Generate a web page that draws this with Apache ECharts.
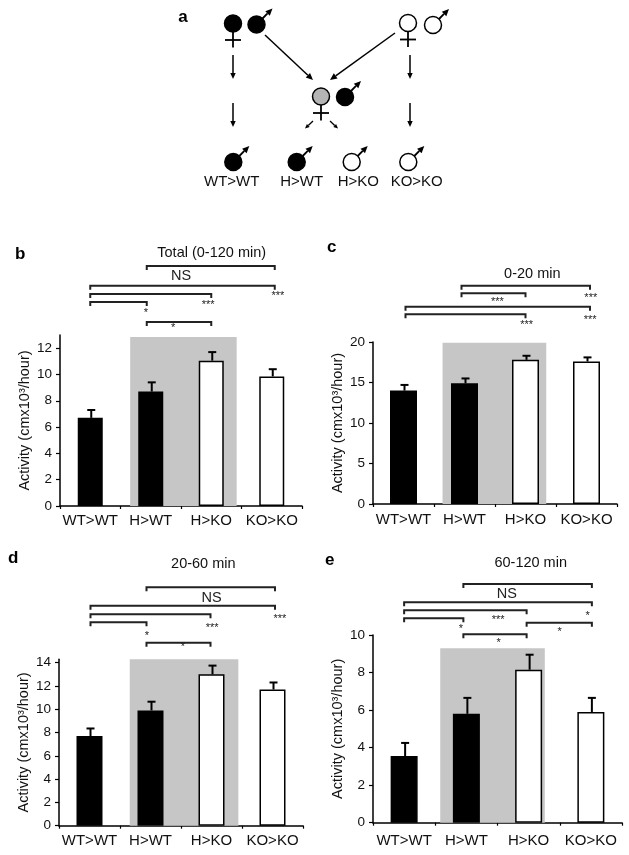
<!DOCTYPE html>
<html><head><meta charset="utf-8">
<script src="https://cdn.jsdelivr.net/npm/echarts@6/dist/echarts.min.js"></script>
<style>html,body{margin:0;padding:0;background:#fff}#c{width:629px;height:855px}</style>
</head><body><div id="c"></div>
<script>
// ---------------- data ----------------
const categories = ['WT>WT', 'H>WT', 'H>KO', 'KO>KO'];
const panelTitles = ['Total (0-120 min)', '0-20 min', '20-60 min', '60-120 min'];
const panelLetters = ['b', 'c', 'd', 'e'];
const yTitle = 'Activity (cmx10\u00B3/hour)';

const totalMean = [6.7, 8.7, 11.05, 9.85];
const totalErr = [0.6, 0.7, 0.65, 0.55];
const min0to20Mean = [14.0, 14.9, 17.8, 17.6];
const min0to20Err = [0.7, 0.6, 0.5, 0.5];
const min20to60Mean = [7.7, 9.9, 13.0, 11.7];
const min20to60Err = [0.65, 0.75, 0.75, 0.6];
const min60to120Mean = [3.55, 5.8, 8.15, 5.9];
const min60to120Err = [0.7, 0.85, 0.8, 0.75];

const ticksB = [0, 2, 4, 6, 8, 10, 12];
const ticksC = [0, 5, 10, 15, 20];
const ticksD = [0, 2, 4, 6, 8, 10, 12, 14];
const ticksE = [0, 2, 4, 6, 8, 10];
const yMaxes = [13, 20, 14.3, 10];
const shadeTops = [12.85, 19.9, 14.3, 9.3];   // grey background (heterozygous dams)

// comparisons: [from, to, significance]
const bracketsB = [['H>WT','KO>KO','NS'], ['WT>WT','KO>KO','***'], ['WT>WT','H>KO','***'], ['WT>WT','H>WT','*'], ['H>WT','H>KO','*']];
const bracketsC = [['H>WT','KO>KO','***'], ['H>WT','H>KO','***'], ['WT>WT','KO>KO','***'], ['WT>WT','H>KO','***']];
const bracketsD = [['H>WT','KO>KO','NS'], ['WT>WT','KO>KO','***'], ['WT>WT','H>KO','***'], ['WT>WT','H>WT','*'], ['H>WT','H>KO','*']];
const bracketsE = [['H>WT','KO>KO','NS'], ['WT>WT','KO>KO','*'], ['WT>WT','H>KO','***'], ['WT>WT','H>WT','*'], ['H>KO','KO>KO','*'], ['H>WT','H>KO','*']];

// ---------------- layout / style ----------------
const FONT = "'Liberation Sans', Arial, Helvetica, sans-serif";
const INK = '#111';
const barFill = ['#000', '#000', '#fff', '#fff'];

const layouts = [
  { grid: {left: 60, top: 335, width: 242, height: 171}, barWidth: 25, xMargin: 7,
    letter: [21, 256], title: [211.7, 252.7], shade: [-0.34, 0.42], endOff: [0, -4, 0, 3],
    br: [{y: 266, lx: 1.5, ly: 276}, {y: 285.7, lx: 3.1, ly: 296}, {y: 294, lx: 1.95, ly: 304.5},
         {y: 302, lx: 0.92, ly: 312.5}, {y: 322, lx: 1.37, ly: 328}] },
  { grid: {left: 373, top: 342, width: 244, height: 162}, barWidth: 27, xMargin: 8,
    letter: [333, 249.3], title: [532.3, 274.3], shade: [-0.36, 0.34], endOff: [2, -3, 0, 3.5],
    br: [{y: 285.7, lx: 3.07, ly: 298}, {y: 293.3, lx: 1.54, ly: 302}, {y: 306.7, lx: 3.06, ly: 320},
         {y: 314.3, lx: 2.02, ly: 324.5}] },
  { grid: {left: 59, top: 659.2, width: 244, height: 166.5}, barWidth: 26, xMargin: 8,
    letter: [14, 560], title: [203.3, 564.3], shade: [-0.34, 0.44], endOff: [1, -4, -1, 2.5],
    br: [{y: 587.3, lx: 2.0, ly: 598.3}, {y: 605.7, lx: 3.12, ly: 618.5}, {y: 614.3, lx: 2.01, ly: 628},
         {y: 622.3, lx: 0.94, ly: 635.5}, {y: 642.7, lx: 1.53, ly: 646.5}] },
  { grid: {left: 373, top: 635, width: 249, height: 187.7}, barWidth: 27, xMargin: 11,
    letter: [331, 561.7], title: [530.7, 563.3], shade: [-0.42, 0.26], endOff: [0, -3, -2, 1],
    br: [{y: 584, lx: 1.65, ly: 594.3}, {y: 602.3, lx: 2.95, ly: 615.5}, {y: 610.3, lx: 1.51, ly: 619.5},
         {y: 618.3, lx: 0.91, ly: 629}, {y: 622.7, lx: 2.5, ly: 632}, {y: 634.3, lx: 1.52, ly: 643}] }
];

const means = [totalMean, min0to20Mean, min20to60Mean, min60to120Mean];
const errs = [totalErr, min0to20Err, min20to60Err, min60to120Err];
const tickSets = [ticksB, ticksC, ticksD, ticksE];
const bracketSets = [bracketsB, bracketsC, bracketsD, bracketsE];

const chart = echarts.init(document.getElementById('c'), null, {renderer: 'canvas'});

const grids = [], xAxes = [], yAxes = [], series = [], graphics = [];

layouts.forEach((L, p) => {
  grids.push(Object.assign({outerBoundsMode: 'none', containLabel: false}, L.grid));
  xAxes.push({
    gridIndex: p, type: 'category', data: categories,
    axisLine: {show: true, lineStyle: {color: '#000', width: 1.5}},
    axisTick: {show: true, length: 3, lineStyle: {color: '#000', width: 1.2}},
    axisLabel: {interval: 0, fontSize: 15, color: INK, margin: L.xMargin, fontFamily: FONT},
    splitLine: {show: false}
  });
  yAxes.push({
    gridIndex: p, type: 'value', min: 0, max: yMaxes[p],
    axisLine: {show: true, lineStyle: {color: '#000', width: 1.5}},
    axisTick: {show: true, inside: false, length: 4, lineStyle: {color: '#000', width: 1.2}, customValues: tickSets[p]},
    axisLabel: {customValues: tickSets[p], fontSize: 13.5, color: INK, margin: 8, fontFamily: FONT},
    splitLine: {show: false},
    name: yTitle, nameLocation: 'middle', nameGap: 28, nameRotate: 90,
    nameTextStyle: {fontSize: 14.5, color: INK, fontFamily: FONT}
  });

  // grey background region
  series.push({
    type: 'custom', xAxisIndex: p, yAxisIndex: p, z: 1, silent: true, clip: false,
    encode: {x: [0, 1], y: 2},
    data: [[1, 2, shadeTops[p]]],
    renderItem: (params, api) => {
      const c0 = api.coord([0, 0]);
      const band = api.size([1, 0])[0];
      const yTop = api.coord([0, api.value(2)])[1];
      const x1 = c0[0] + (api.value(0) + L.shade[0]) * band;
      const x2 = c0[0] + (api.value(1) + L.shade[1]) * band;
      return {type: 'rect', shape: {x: x1, y: yTop, width: x2 - x1, height: c0[1] - yTop},
              style: {fill: '#c6c6c6'}};
    }
  });

  // bars
  series.push({
    type: 'bar', xAxisIndex: p, yAxisIndex: p, z: 3, barWidth: L.barWidth,
    data: means[p].map((v, i) => ({value: v, itemStyle: {color: barFill[i], borderColor: '#000', borderWidth: 1.5}}))
  });

  // error bars (upper SEM)
  series.push({
    type: 'custom', xAxisIndex: p, yAxisIndex: p, z: 4, silent: true, clip: false,
    encode: {x: 0, y: 1},
    data: means[p].map((m, i) => [i, m, errs[p][i]]),
    renderItem: (params, api) => {
      const base = api.coord([api.value(0), api.value(1)]);
      const top = api.coord([api.value(0), api.value(1) + api.value(2)]);
      const x = base[0] + 1;
      return {type: 'group', children: [
        {type: 'line', shape: {x1: x, y1: base[1], x2: x, y2: top[1]}, style: {stroke: '#000', lineWidth: 2}},
        {type: 'line', shape: {x1: x - 4, y1: top[1], x2: x + 4, y2: top[1]}, style: {stroke: '#000', lineWidth: 2}}
      ]};
    }
  });

  // significance brackets
  const brs = bracketSets[p];
  series.push({
    type: 'custom', xAxisIndex: p, yAxisIndex: p, z: 5, silent: true, clip: false,
    encode: {x: [0, 1]},
    data: brs.map(b => [categories.indexOf(b[0]), categories.indexOf(b[1]), 0]),
    renderItem: (params, api) => {
      const i = params.dataIndex;
      const B = L.br[i];
      const a = api.value(0), b = api.value(1);
      const c0 = api.coord([0, 0])[0];
      const band = api.size([1, 0])[0];
      const x1 = c0 + a * band + L.endOff[a];
      const x2 = c0 + b * band + L.endOff[b];
      const lbl = brs[i][2];
      const isNS = lbl === 'NS';
      return {type: 'group', children: [
        {type: 'polyline', shape: {points: [[x1, B.y + 4], [x1, B.y], [x2, B.y], [x2, B.y + 4]]},
         style: {stroke: '#222', lineWidth: 2, fill: null}},
        {type: 'text', style: {text: lbl, x: c0 + B.lx * band, y: B.ly, align: 'center', verticalAlign: 'middle',
          font: (isNS ? '14.5px ' : '11px ') + FONT, fill: '#222'}}
      ]};
    }
  });

  graphics.push({type: 'text', left: L.letter[0] - 6, top: L.letter[1] - 10,
    style: {text: panelLetters[p], font: 'bold 17px ' + FONT, fill: '#000'}});
  graphics.push({type: 'text', x: L.title[0], y: L.title[1],
    style: {text: panelTitles[p], font: '14.5px ' + FONT, fill: INK, align: 'center', verticalAlign: 'middle'}});
});

// ---------------- panel a: breeding scheme ----------------
const R = 8.5;
function arrow(x1, y1, x2, y2, head, w) {
  head = head || 6; w = w || 1.5;
  const ang = Math.atan2(y2 - y1, x2 - x1);
  const hx = x2 - head * Math.cos(ang), hy = y2 - head * Math.sin(ang);
  const px = -Math.sin(ang) * head * 0.45, py = Math.cos(ang) * head * 0.45;
  return [
    {type: 'line', shape: {x1, y1, x2: hx, y2: hy}, style: {stroke: '#000', lineWidth: w}},
    {type: 'polygon', shape: {points: [[x2, y2], [hx + px, hy + py], [hx - px, hy - py]]}, style: {fill: '#000'}}
  ];
}
function female(cx, cy, fill) {
  return [
    {type: 'circle', shape: {cx, cy, r: R}, style: {fill, stroke: '#000', lineWidth: 1.5}},
    {type: 'line', shape: {x1: cx, y1: cy + R, x2: cx, y2: cy + 24}, style: {stroke: '#000', lineWidth: 1.8}},
    {type: 'line', shape: {x1: cx - 8, y1: cy + 16.5, x2: cx + 8, y2: cy + 16.5}, style: {stroke: '#000', lineWidth: 1.8}}
  ];
}
function male(cx, cy, fill) {
  return [
    {type: 'circle', shape: {cx, cy, r: R}, style: {fill, stroke: '#000', lineWidth: 1.5}}
  ].concat(arrow(cx + 6, cy - 6, cx + 16, cy - 16, 7, 1.8));
}
let schemeEls = [];
schemeEls = schemeEls.concat(
  female(233, 23.5, '#000'), male(256.5, 24.5, '#000'),
  female(408, 23, '#fff'), male(433, 25, '#fff'),
  female(321, 96.5, '#b4b4b4'), male(345, 97, '#000'),
  arrow(233, 55, 233, 79, 6), arrow(233, 103, 233, 127, 6),
  arrow(410, 55, 410, 79, 6), arrow(410, 103, 410, 127, 6),
  arrow(265, 35, 313, 80, 7), arrow(395, 33, 330, 80, 7),
  arrow(313, 121, 305, 128.5, 4.5, 1.3), arrow(330, 121, 338, 128.5, 4.5, 1.3)
);
const offspringX = [233.3, 296.7, 351.7, 408.3];
const offspringFill = ['#000', '#000', '#fff', '#fff'];
const offspringLabelX = [231.7, 301.7, 358.3, 416.7];
categories.forEach((c, i) => {
  schemeEls = schemeEls.concat(male(offspringX[i], 162, offspringFill[i]));
  schemeEls.push({type: 'text', x: offspringLabelX[i], y: 182,
    style: {text: c, font: '15px ' + FONT, fill: INK, align: 'center', verticalAlign: 'middle'}});
});
schemeEls.push({type: 'text', x: 183, y: 17,
  style: {text: 'a', font: 'bold 17px ' + FONT, fill: '#000', align: 'center', verticalAlign: 'middle'}});
graphics.push({type: 'group', children: schemeEls});

chart.setOption({
  animation: false,
  backgroundColor: '#fff',
  textStyle: {fontFamily: FONT},
  grid: grids, xAxis: xAxes, yAxis: yAxes, series,
  graphic: graphics
});
</script></body></html>
